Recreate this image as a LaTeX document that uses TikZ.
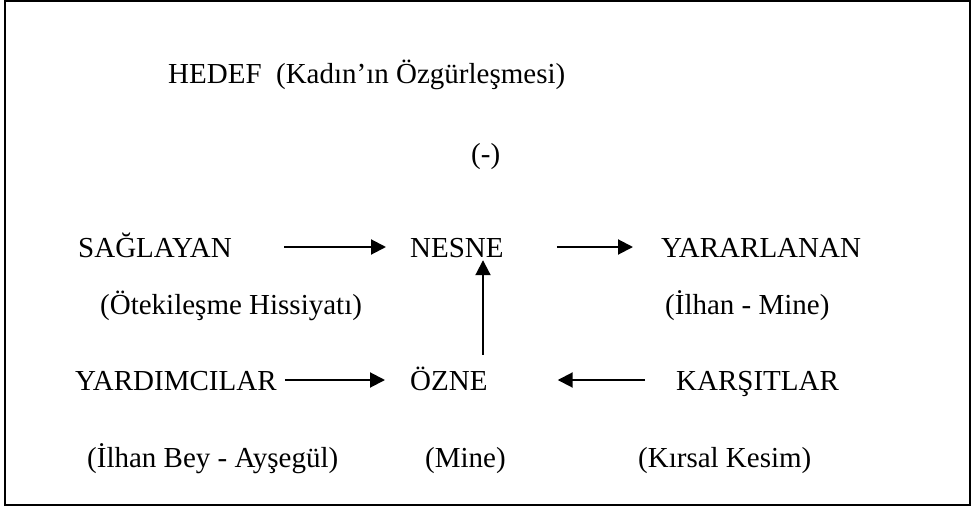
\documentclass[tikz,border=0pt]{standalone}
\usepackage{fontspec}
\setmainfont{Liberation Serif}
\usetikzlibrary{arrows.meta}
\begin{document}
\begin{tikzpicture}[x=1pt,y=1pt,
  lbl/.style={inner sep=0pt, anchor=base west, text height=20pt, text depth=0pt,
    font=\fontsize{29}{34}\selectfont},
  arr/.style={line width=2pt, -{Triangle[length=15pt,width=15pt]}}]
\useasboundingbox (0,0) rectangle (971,-508);
% frame
\draw[line width=1.6pt] (5,-1.2) rectangle (970,-505);
% goal line
\node[lbl] (hedef) at (168,-84) {HEDEF\ \ (Kadın’ın Özgürleşmesi)};
\node[lbl] (eksi) at (471,-163) {(-)};
% first row
\node[lbl] (sag) at (78,-257) {SAĞLAYAN};
\node[lbl] (nes) at (410,-257) {NESNE};
\node[lbl] (yar) at (661,-257) {YARARLANAN};
\node[lbl] (ote) at (100,-314) {(Ötekileşme Hissiyatı)};
\node[lbl] (ilm) at (665,-314) {(İlhan - Mine)};
% second row
\node[lbl] (yrd) at (75,-390) {YARDIMCILAR};
\node[lbl] (ozn) at (410,-390) {ÖZNE};
\node[lbl] (kar) at (676,-390) {KARŞITLAR};
\node[lbl] (ilb) at (87,-467) {(İlhan Bey - Ayşegül)};
\node[lbl] (min) at (425,-467) {(Mine)};
\node[lbl] (kir) at (638,-467) {(Kırsal Kesim)};
% connectors
\coordinate (vx) at (483,0);
\draw[arr, shorten <=52pt, shorten >=24pt] (sag) -- (nes);
\draw[arr, shorten <=53pt, shorten >=28pt] (nes) -- (yar);
\draw[arr, shorten <=8pt, shorten >=25pt] (yrd) -- (ozn);
\draw[arr, shorten <=31pt, shorten >=70pt] (kar) -- (ozn);
\draw[arr, shorten <=15pt, shorten >=3pt] (ozn.north -| vx) -- (nes.south -| vx);
\end{tikzpicture}
\end{document}
